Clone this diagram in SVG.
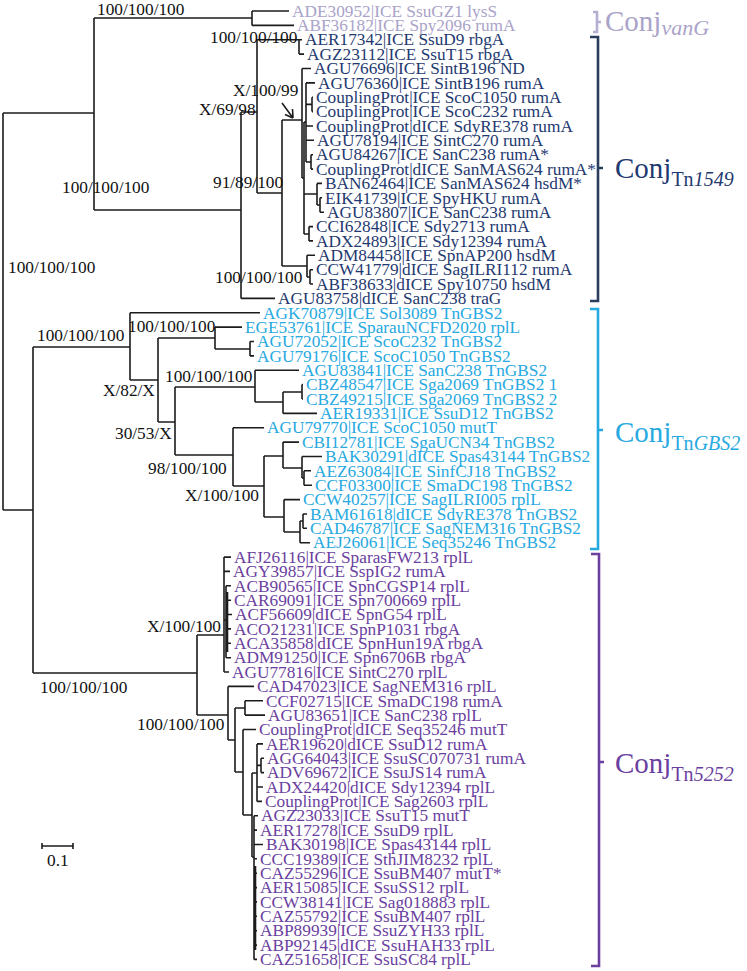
<svg xmlns="http://www.w3.org/2000/svg" width="747" height="971" viewBox="0 0 747 971">
<style>
text{font-family:"Liberation Serif","Times New Roman",serif;font-size:17.3px}
.v{fill:#aaa3c9}.n{fill:#1f3a70}.c{fill:#27a9e1}.p{fill:#6b3fa0}
.k{fill:#111}
.big{font-size:29px}.sub{font-size:20px}.sub2{font-size:22px}.it{font-style:italic}
.tree{fill:none;stroke:#1c1c1c;stroke-width:1.6}
.br{fill:none;stroke-width:2.6}
</style>
<rect width="747" height="971" fill="#fff"/>
<g id="connectors" class="tree">
<path d="M3,113V510M3,113H94M3,510H33"/>
<path d="M94,18V210M94,18H252M94,210H241"/>
<path d="M252,11V25.4M252,11H289M252,25.4H294"/>
<path d="M241,112V298.4M241,112H257M241,298.4H275"/>
<path d="M257,39.7V193M257,39.7H299M257,193H282"/>
<path d="M299,39.7V54.1M299,39.7H302M299,54.1H304"/>
<path d="M282,120V266M282,120H302M282,266H307"/>
<path d="M302,68.5V178M302,68.5H311M302,178H304"/>
<path d="M304,122V234M304,122H306M304,194H317M304,234H309"/>
<path d="M306,82.9V162M306,82.9H315M306,104.4H312M306,126H313M306,140.3H314M306,162H311"/>
<path d="M312,97.2V111.6M312,97.2H313M312,111.6H313"/>
<path d="M311,154.7V169.1M311,154.7H313M311,169.1H313"/>
<path d="M317,183.4V205M317,183.4H322M317,205H320"/>
<path d="M320,197.8V212.2M320,197.8H322M320,212.2H324"/>
<path d="M309,226.6V240.9M309,226.6H313M309,240.9H313"/>
<path d="M307,255.3V277M307,255.3H315M307,277H310"/>
<path d="M310,269.7V284M310,269.7H313M310,284H313"/>
<path d="M33,347V673M33,347H130M33,673H197"/>
<path d="M130,312.8V380M130,312.8H260M130,380H158"/>
<path d="M158,338V422M158,338H215M158,422H175"/>
<path d="M215,327.1V349M215,327.1H242M215,349H250"/>
<path d="M250,341.5V355.9M250,341.5H254M250,355.9H254"/>
<path d="M175,387V455M175,387H255M175,455H233"/>
<path d="M255,370.3V402M255,370.3H299M255,402H283"/>
<path d="M283,392V413.4M283,392H302M283,413.4H317"/>
<path d="M302,384.6V399M302,384.6H303M302,399H303"/>
<path d="M233,427.7V486M233,427.7H264M233,486H264"/>
<path d="M264,456V517M264,456H283M264,517H284"/>
<path d="M283,442.1V468M283,442.1H299M283,468H302"/>
<path d="M302,456.5V478M302,456.5H322M302,478H304"/>
<path d="M304,470.8V485.2M304,470.8H311M304,485.2H312"/>
<path d="M284,499.6V532M284,499.6H300M284,532H300"/>
<path d="M300,521V542.7M300,521H303M300,542.7H310"/>
<path d="M303,514V528.3M303,514H307M303,528.3H307"/>
<path d="M197,635V715M197,635H224M197,715H228"/>
<path d="M224,557.1V672M224,557.1H231M224,571.4H230M224,620H226M224,672H229"/>
<path d="M226,585.8V657.7M227.5,592V652M226,585.8H231M226,600.2H231M226,614.5H232M226,628.9H231M226,643.3H231M226,657.7H231"/>
<path d="M228,686.4V740M228,686.4H254M228,740H235"/>
<path d="M235,708V772M235,708H245M235,772H243"/>
<path d="M245,700.8V715.1M245,700.8H263M245,715.1H265"/>
<path d="M243,729.5V815M243,729.5H256M243,815H252"/>
<path d="M252,773V857M252,773H257M252,857H254"/>
<path d="M257,743.9V801.4M257,743.9H263M257,765.4H261M257,787H263M257,801.4H262"/>
<path d="M261,758.2V772.6M261,758.2H264M261,772.6H264"/>
<path d="M254,815.7V959.4M255.5,866V950M254,815.7H258M254,830.1H257M254,844.5H263M254,858.8H257M254,873.2H257M254,887.6H257M254,901.9H257M254,916.3H257M254,930.7H257M254,945.1H257M254,959.4H257"/>
<path d="M282,103L293,118M293,118L292.5,109M293,118L285,114.5"/>
<path d="M42,846H73M42,843V849M73,843V849"/>
</g>
<g id="support-labels" class="k">
<text x="97" y="15">100/100/100</text>
<text x="210" y="43">100/100/100</text>
<text x="233" y="96">X/100/99</text>
<text x="199" y="115">X/69/98</text>
<text x="213" y="188">91/89/100</text>
<text x="62" y="193">100/100/100</text>
<text x="215" y="283">100/100/100</text>
<text x="8" y="273">100/100/100</text>
<text x="37" y="341">100/100/100</text>
<text x="128" y="332">100/100/100</text>
<text x="165" y="382">100/100/100</text>
<text x="103" y="396">X/82/X</text>
<text x="115" y="439">30/53/X</text>
<text x="148" y="474">98/100/100</text>
<text x="185" y="501">X/100/100</text>
<text x="147" y="632">X/100/100</text>
<text x="40" y="693">100/100/100</text>
<text x="137" y="730">100/100/100</text>
<text x="47" y="866">0.1</text>
</g>
<g id="leaf-0" class="v"><text x="292" y="16.7">ADE30952|ICE SsuGZ1 lysS</text></g>
<g id="leaf-1" class="v"><text x="297" y="31.1">ABF36182|ICE Spy2096 rumA</text></g>
<g id="leaf-2" class="n"><text x="305" y="45.4">AER17342|ICE SsuD9 rbgA</text></g>
<g id="leaf-3" class="n"><text x="307" y="59.8">AGZ23112|ICE SsuT15 rbgA</text></g>
<g id="leaf-4" class="n"><text x="314" y="74.2">AGU76696|ICE SintB196 ND</text></g>
<g id="leaf-5" class="n"><text x="318" y="88.6">AGU76360|ICE SintB196 rumA</text></g>
<g id="leaf-6" class="n"><text x="316" y="102.9">CouplingProt|ICE ScoC1050 rumA</text></g>
<g id="leaf-7" class="n"><text x="316" y="117.3">CouplingProt|ICE ScoC232 rumA</text></g>
<g id="leaf-8" class="n"><text x="316" y="131.7">CouplingProt|dICE SdyRE378 rumA</text></g>
<g id="leaf-9" class="n"><text x="317" y="146">AGU78194|ICE SintC270 rumA</text></g>
<g id="leaf-10" class="n"><text x="316" y="160.4">AGU84267|ICE SanC238 rumA*</text></g>
<g id="leaf-11" class="n"><text x="316" y="174.8">CouplingProt|dICE SanMAS624 rumA*</text></g>
<g id="leaf-12" class="n"><text x="325" y="189.1">BAN62464|ICE SanMAS624 hsdM*</text></g>
<g id="leaf-13" class="n"><text x="325" y="203.5">EIK41739|ICE SpyHKU rumA</text></g>
<g id="leaf-14" class="n"><text x="327" y="217.9">AGU83807|ICE SanC238 rumA</text></g>
<g id="leaf-15" class="n"><text x="316" y="232.3">CCI62848|ICE Sdy2713 rumA</text></g>
<g id="leaf-16" class="n"><text x="316" y="246.6">ADX24893|ICE Sdy12394 rumA</text></g>
<g id="leaf-17" class="n"><text x="318" y="261">ADM84458|ICE SpnAP200 hsdM</text></g>
<g id="leaf-18" class="n"><text x="316" y="275.4">CCW41779|dICE SagILRI112 rumA</text></g>
<g id="leaf-19" class="n"><text x="316" y="289.7">ABF38633|dICE Spy10750 hsdM</text></g>
<g id="leaf-20" class="n"><text x="278" y="304.1">AGU83758|dICE SanC238 traG</text></g>
<g id="leaf-21" class="c"><text x="263" y="318.5">AGK70879|ICE Sol3089 TnGBS2</text></g>
<g id="leaf-22" class="c"><text x="245" y="332.8">EGE53761|ICE SparauNCFD2020 rplL</text></g>
<g id="leaf-23" class="c"><text x="257" y="347.2">AGU72052|ICE ScoC232 TnGBS2</text></g>
<g id="leaf-24" class="c"><text x="257" y="361.6">AGU79176|ICE ScoC1050 TnGBS2</text></g>
<g id="leaf-25" class="c"><text x="302" y="376">AGU83841|ICE SanC238 TnGBS2</text></g>
<g id="leaf-26" class="c"><text x="306" y="390.3">CBZ48547|ICE Sga2069 TnGBS2 1</text></g>
<g id="leaf-27" class="c"><text x="306" y="404.7">CBZ49215|ICE Sga2069 TnGBS2 2</text></g>
<g id="leaf-28" class="c"><text x="320" y="419.1">AER19331|ICE SsuD12 TnGBS2</text></g>
<g id="leaf-29" class="c"><text x="267" y="433.4">AGU79770|ICE ScoC1050 mutT</text></g>
<g id="leaf-30" class="c"><text x="302" y="447.8">CBI12781|ICE SgaUCN34 TnGBS2</text></g>
<g id="leaf-31" class="c"><text x="325" y="462.2">BAK30291|dICE Spas43144 TnGBS2</text></g>
<g id="leaf-32" class="c"><text x="314" y="476.5">AEZ63084|ICE SinfCJ18 TnGBS2</text></g>
<g id="leaf-33" class="c"><text x="315" y="490.9">CCF03300|ICE SmaDC198 TnGBS2</text></g>
<g id="leaf-34" class="c"><text x="303" y="505.3">CCW40257|ICE SagILRI005 rplL</text></g>
<g id="leaf-35" class="c"><text x="310" y="519.7">BAM61618|dICE SdyRE378 TnGBS2</text></g>
<g id="leaf-36" class="c"><text x="310" y="534">CAD46787|ICE SagNEM316 TnGBS2</text></g>
<g id="leaf-37" class="c"><text x="313" y="548.4">AEJ26061|ICE Seq35246 TnGBS2</text></g>
<g id="leaf-38" class="p"><text x="234" y="562.8">AFJ26116|ICE SparasFW213 rplL</text></g>
<g id="leaf-39" class="p"><text x="233" y="577.1">AGY39857|ICE SspIG2 rumA</text></g>
<g id="leaf-40" class="p"><text x="234" y="591.5">ACB90565|ICE SpnCGSP14 rplL</text></g>
<g id="leaf-41" class="p"><text x="234" y="605.9">CAR69091|ICE Spn700669 rplL</text></g>
<g id="leaf-42" class="p"><text x="235" y="620.2">ACF56609|dICE SpnG54 rplL</text></g>
<g id="leaf-43" class="p"><text x="234" y="634.6">ACO21231|ICE SpnP1031 rbgA</text></g>
<g id="leaf-44" class="p"><text x="234" y="649">ACA35858|dICE SpnHun19A rbgA</text></g>
<g id="leaf-45" class="p"><text x="234" y="663.4">ADM91250|ICE Spn6706B rbgA</text></g>
<g id="leaf-46" class="p"><text x="232" y="677.7">AGU77816|ICE SintC270 rplL</text></g>
<g id="leaf-47" class="p"><text x="257" y="692.1">CAD47023|ICE SagNEM316 rplL</text></g>
<g id="leaf-48" class="p"><text x="266" y="706.5">CCF02715|ICE SmaDC198 rumA</text></g>
<g id="leaf-49" class="p"><text x="268" y="720.8">AGU83651|ICE SanC238 rplL</text></g>
<g id="leaf-50" class="p"><text x="259" y="735.2">CouplingProt|dICE Seq35246 mutT</text></g>
<g id="leaf-51" class="p"><text x="266" y="749.6">AER19620|dICE SsuD12 rumA</text></g>
<g id="leaf-52" class="p"><text x="267" y="763.9">AGG64043|ICE SsuSC070731 rumA</text></g>
<g id="leaf-53" class="p"><text x="267" y="778.3">ADV69672|ICE SsuJS14 rumA</text></g>
<g id="leaf-54" class="p"><text x="266" y="792.7">ADX24420|dICE Sdy12394 rplL</text></g>
<g id="leaf-55" class="p"><text x="265" y="807.1">CouplingProt|ICE Sag2603 rplL</text></g>
<g id="leaf-56" class="p"><text x="261" y="821.4">AGZ23033|ICE SsuT15 mutT</text></g>
<g id="leaf-57" class="p"><text x="260" y="835.8">AER17278|ICE SsuD9 rplL</text></g>
<g id="leaf-58" class="p"><text x="266" y="850.2">BAK30198|ICE Spas43144 rplL</text></g>
<g id="leaf-59" class="p"><text x="260" y="864.5">CCC19389|ICE SthJIM8232 rplL</text></g>
<g id="leaf-60" class="p"><text x="260" y="878.9">CAZ55296|ICE SsuBM407 mutT*</text></g>
<g id="leaf-61" class="p"><text x="260" y="893.3">AER15085|ICE SsuSS12 rplL</text></g>
<g id="leaf-62" class="p"><text x="260" y="907.6">CCW38141|ICE Sag018883 rplL</text></g>
<g id="leaf-63" class="p"><text x="260" y="922">CAZ55792|ICE SsuBM407 rplL</text></g>
<g id="leaf-64" class="p"><text x="260" y="936.4">ABP89939|ICE SsuZYH33 rplL</text></g>
<g id="leaf-65" class="p"><text x="260" y="950.8">ABP92145|dICE SsuHAH33 rplL</text></g>
<g id="leaf-66" class="p"><text x="260" y="965.1">CAZ51658|ICE SsuSC84 rplL</text></g>
<g id="clade-vanG">
<path class="br" stroke="#b6aed3" d="M593,12H597V32H593M597,22H601"/>
<text class="v big" x="605" y="31">Conj<tspan class="sub2 it" dy="4">vanG</tspan></text>
</g>
<g id="clade-Tn1549">
<path class="br" stroke="#2b3d5e" d="M590,37H598V301H590M598,168H603"/>
<text class="n big" x="615" y="178">Conj<tspan class="sub" dy="8">Tn</tspan><tspan class="sub it">1549</tspan></text>
</g>
<g id="clade-TnGBS2">
<path class="br" stroke="#27a9e1" d="M590,309H598V549H590M598,430H603"/>
<text class="c big" x="615" y="442">Conj<tspan class="sub" dy="8">Tn</tspan><tspan class="sub it">GBS2</tspan></text>
</g>
<g id="clade-Tn5252">
<path class="br" stroke="#6b3fa0" d="M591,554H599V966H591M599,762H604"/>
<text class="p big" x="615" y="773">Conj<tspan class="sub" dy="8">Tn</tspan><tspan class="sub it">5252</tspan></text>
</g>
</svg>
